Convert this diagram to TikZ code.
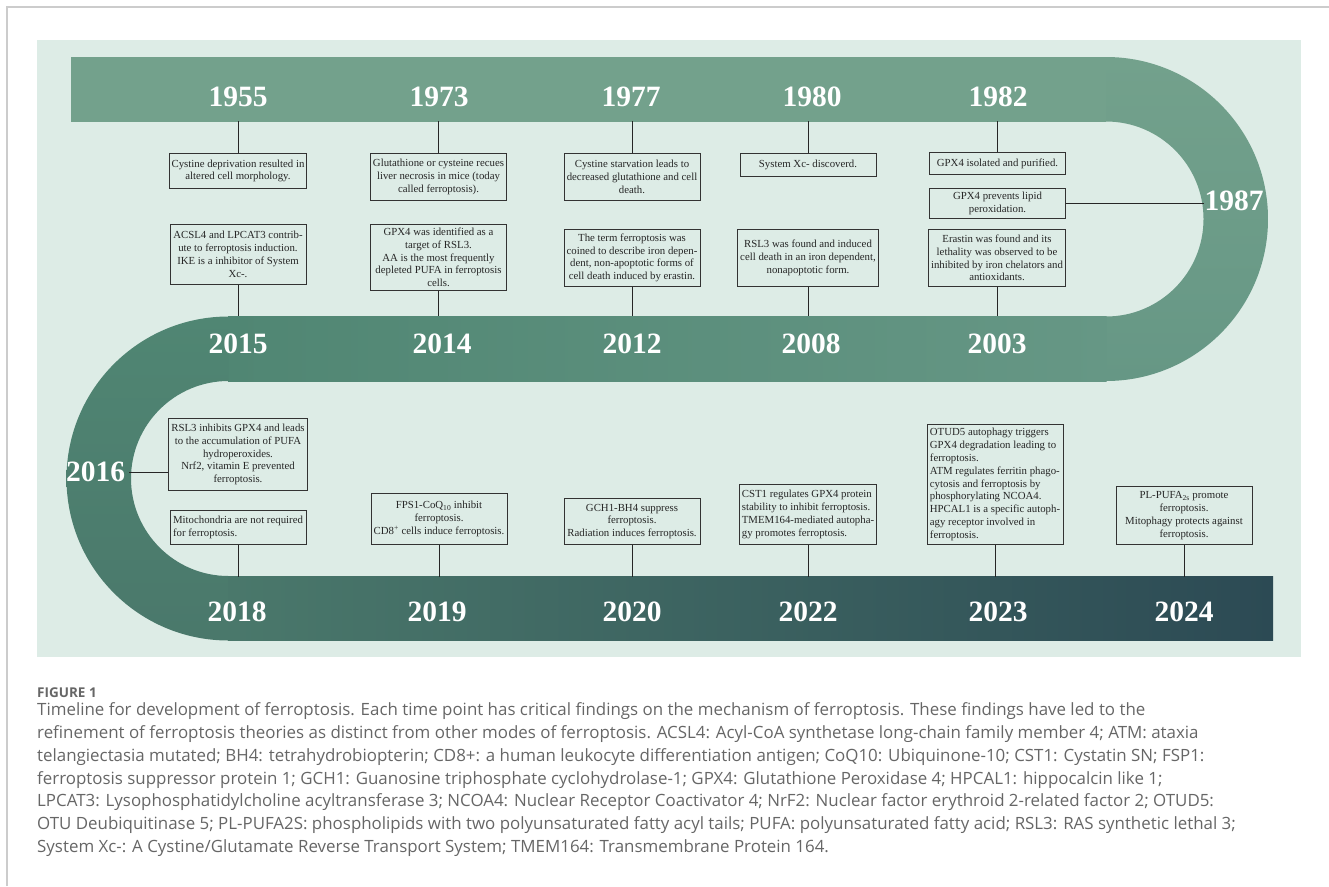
\documentclass[tikz,border=0pt]{standalone}
\usepackage{fontspec}
\setmainfont{Liberation Serif}
\newfontfamily\capfont{Open Sans}

\definecolor{panel}{HTML}{DDECE6}
\definecolor{bandA}{HTML}{73A18C}
\definecolor{bandB}{HTML}{669785}
\definecolor{bandC}{HTML}{508673}
\definecolor{bandD}{HTML}{4A786B}
\definecolor{bandE}{HTML}{2C4A54}
\definecolor{captxt}{HTML}{666666}

\begin{document}
\begin{tikzpicture}[x=1pt,y=-1pt,
    finding/.style={draw=black!80, line width=0.9pt, fill=panel, inner sep=2.5pt,
        minimum width=136pt, align=center, text=black!85,
        font=\fontsize{10.8}{12.8}\selectfont},
    year/.style={text=white, inner sep=0pt, font=\fontsize{29.5}{30}\selectfont\bfseries},
    link/.style={black!85, line width=0.9pt}]
    %\draw[lightgray] (0, 0) grid[step=50] (1329, 886);
    \useasboundingbox (0,0) rectangle (1329,886);
    \draw[black!20, line width=1.2pt] (7,886) -- (7,7) -- (1329,7);
    \fill[panel] (37,40) rectangle (1301,657);

    % the winding band
    \fill[bandA] (71,57) rectangle (1106,121.5);
    \shade[top color=bandA, bottom color=bandB] (1106,57) arc[start angle=-90, end angle=90, radius=162]
        -- (1106,316.5) arc[start angle=90, end angle=-90, radius=97.5] -- cycle;
    \shade[left color=bandC, right color=bandB] (228,316.5) rectangle (1106.5,381);
    \shade[top color=bandC, bottom color=bandD] (228.5,316.5) arc[start angle=270, end angle=90, radius=162]
        -- (228.5,576) arc[start angle=90, end angle=270, radius=97.5] -- cycle;
    \shade[left color=bandD, right color=bandE] (228,576) rectangle (1273,640.5);

    \coordinate (topedge) at (0,121);
    \coordinate (midtop) at (0,316);
    \coordinate (botedge) at (0,577);
    \coordinate (rightinner) at (1204,0);
    \coordinate (leftinner) at (129,0);

    % years
    \node[year](y1955) at (238,97) {1955};
    \node[year](y1973) at (439,97) {1973};
    \node[year](y1977) at (631,97) {1977};
    \node[year](y1980) at (812,97) {1980};
    \node[year](y1982) at (998,97) {1982};
    \node[year](y1987) at (1234,201) {1987};
    \node[year](y2015) at (238,344) {2015};
    \node[year](y2014) at (442,344) {2014};
    \node[year](y2012) at (632,344) {2012};
    \node[year](y2008) at (811,344) {2008};
    \node[year](y2003) at (997,344) {2003};
    \node[year](y2016) at (95.5,472) {2016};
    \node[year](y2018) at (237,612) {2018};
    \node[year](y2019) at (437,612) {2019};
    \node[year](y2020) at (632,612) {2020};
    \node[year](y2022) at (808,612) {2022};
    \node[year](y2023) at (998,612) {2023};
    \node[year](y2024) at (1184,612) {2024};

    % findings, upper row
    \node[finding, anchor=north, minimum height=35](f1955) at (238,153)
        {Cystine deprivation resulted in\\altered cell morphology.};
    \node[finding, anchor=north, minimum height=47](f1973) at (438.5,153)
        {Glutathione or cysteine recues\\liver necrosis in mice (today\\called ferroptosis).};
    \node[finding, anchor=north, minimum height=47](f1977) at (632,153)
        {Cystine starvation leads to\\decreased glutathione and cell\\death.};
    \node[finding, anchor=north, minimum height=23](f1980) at (808,153)
        {System Xc- discoverd.};
    \node[finding, anchor=north, minimum height=22](f1982) at (997.5,152)
        {GPX4 isolated and purified.};
    \node[finding, anchor=north, minimum height=30](f1987) at (997.5,188)
        {GPX4 prevents lipid\\peroxidation.};

    \node[finding, anchor=north, minimum height=60](f2015) at (238,224)
        {ACSL4 and LPCAT3 contrib-\\ute to ferroptosis induction.\\IKE is a inhibitor of System\\Xc-.};
    \node[finding, anchor=north, minimum height=66](f2014) at (438.5,224)
        {GPX4 was identified as a\\target of RSL3.\\AA is the most frequently\\depleted PUFA in ferroptosis\\cells.};
    \node[finding, anchor=north, minimum height=57](f2012) at (632,229)
        {The term ferroptosis was\\coined to describe iron depen-\\dent, non-apoptotic forms of\\cell death induced by erastin.};
    \node[finding, anchor=north, minimum height=57](f2008) at (808,229)
        {RSL3 was found and induced\\cell death in an iron dependent,\\nonapoptotic form.};
    \node[finding, anchor=north, minimum height=57](f2003) at (997,229)
        {Erastin was found and its\\lethality was observed to be\\inhibited by iron chelators and\\antioxidants.};

    % findings, lower row
    \node[finding, anchor=north, minimum height=72](f2016) at (238,418)
        {RSL3 inhibits GPX4 and leads\\to the accumulation of PUFA\\hydroperoxides.\\Nrf2, vitamin E prevented\\ferroptosis.};
    \node[finding, anchor=south, minimum height=34, align=left](f2018) at (238,545)
        {Mitochondria are not required\\for ferroptosis.};
    \node[finding, anchor=south, minimum height=51](f2019) at (439,545)
        {FPS1-CoQ\textsubscript{10} inhibit\\ferroptosis.\\CD8\textsuperscript{+} cells induce ferroptosis.};
    \node[finding, anchor=south, minimum height=46](f2020) at (632,545)
        {GCH1-BH4 suppress\\ferroptosis.\\Radiation induces ferroptosis.};
    \node[finding, anchor=south, minimum height=60, align=left](f2022) at (808,545)
        {CST1 regulates GPX4 protein\\stability to inhibit ferroptosis.\\TMEM164-mediated autopha-\\gy promotes ferroptosis.};
    \node[finding, anchor=south, minimum height=120, align=left](f2023) at (995,545)
        {OTUD5 autophagy triggers\\GPX4 degradation leading to\\ferroptosis.\\ATM regulates ferritin phago-\\cytosis and ferroptosis by\\phosphorylating NCOA4.\\HPCAL1 is a specific autoph-\\agy receptor involved in\\ferroptosis.};
    \node[finding, anchor=south, minimum height=58](f2024) at (1184,545)
        {PL-PUFA\textsubscript{2s} promote\\ferroptosis.\\Mitophagy protects against\\ferroptosis.};

    % links to the band
    \foreach \f in {f1955,f1973,f1977,f1980,f1982}
        \draw[link] (\f.north) -- (\f.north |- topedge);
    \foreach \f in {f2015,f2014,f2012,f2008,f2003}
        \draw[link] (\f.south) -- (\f.south |- midtop);
    \foreach \f in {f2018,f2019,f2020,f2022,f2023,f2024}
        \draw[link] (\f.south) -- (\f.south |- botedge);
    \draw[link] (f1987.east) -- (f1987.east -| rightinner);
    \draw[link] (f2016.west |- y2016) -- (y2016 -| leftinner);

    % caption
    \node[anchor=north west, inner sep=0pt, text=captxt, font=\capfont\bfseries\fontsize{13.5}{13.5}\selectfont](figlabel) at (37,687.5) {FIGURE 1};
    \node[anchor=north west, inner sep=0pt, align=left, text=captxt, font=\capfont\fontsize{16.9}{22.8}\selectfont](caption) at (37,702.5)
        {Timeline for development of ferroptosis. Each time point has critical findings on the mechanism of ferroptosis. These findings have led to the\\
        refinement of ferroptosis theories as distinct from other modes of ferroptosis. ACSL4: Acyl-CoA synthetase long-chain family member 4; ATM: ataxia\\
        telangiectasia mutated; BH4: tetrahydrobiopterin; CD8+: a human leukocyte differentiation antigen; CoQ10: Ubiquinone-10; CST1: Cystatin SN; FSP1:\\
        ferroptosis suppressor protein 1; GCH1: Guanosine triphosphate cyclohydrolase-1; GPX4: Glutathione Peroxidase 4; HPCAL1: hippocalcin like 1;\\
        LPCAT3: Lysophosphatidylcholine acyltransferase 3; NCOA4: Nuclear Receptor Coactivator 4; NrF2: Nuclear factor erythroid 2-related factor 2; OTUD5:\\
        OTU Deubiquitinase 5; PL-PUFA2S: phospholipids with two polyunsaturated fatty acyl tails; PUFA: polyunsaturated fatty acid; RSL3: RAS synthetic lethal 3;\\
        System Xc-: A Cystine/Glutamate Reverse Transport System; TMEM164: Transmembrane Protein 164.};
\end{tikzpicture}
\end{document}
